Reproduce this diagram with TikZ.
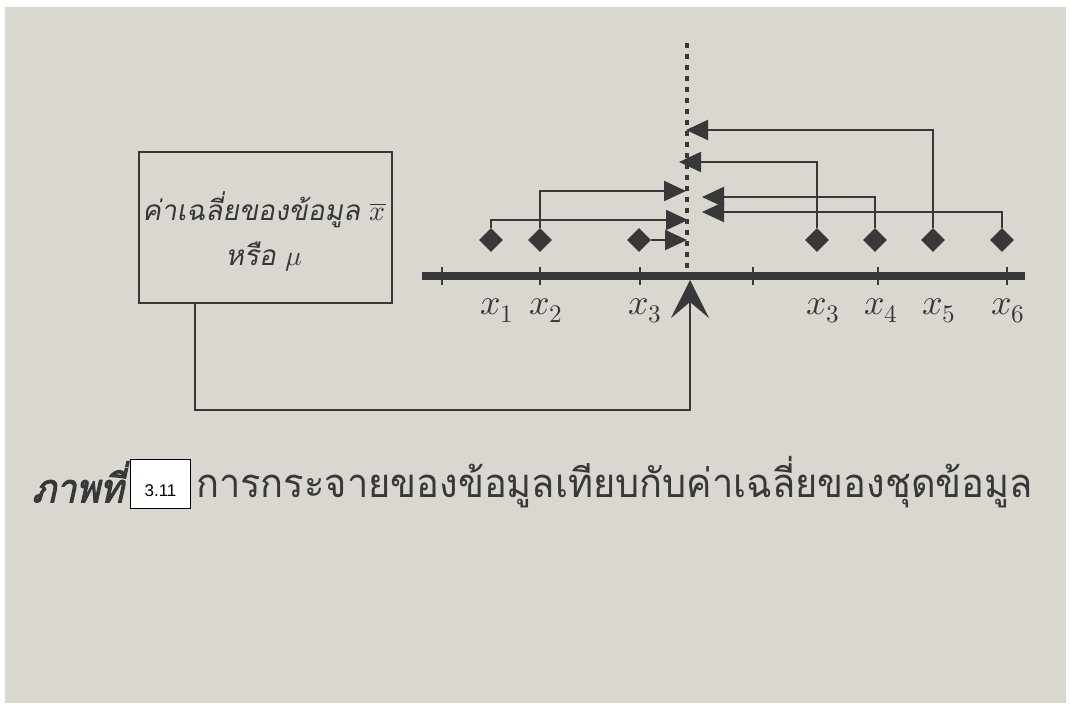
\documentclass[tikz,border=0pt]{standalone}
\usepackage{fontspec}
\usepackage{unicode-math}
\usetikzlibrary{arrows.meta,shapes.geometric}
\newfontfamily\thaifont[Script=Thai,FakeStretch=0.95]{Loma}
\newfontfamily\thaiit[Script=Thai,FakeSlant=0.18]{Loma}
\newfontfamily\thaibi[Script=Thai,FakeSlant=0.22,FakeBold=2.5,FakeStretch=0.9]{Loma}
\newfontfamily\numfont{Liberation Sans}
\definecolor{paper}{HTML}{DAD7D1}
\definecolor{ink}{HTML}{383838}
\tikzset{
  diam/.style={diamond, aspect=1, fill=ink, draw=none, minimum width=24pt, minimum height=24pt, inner sep=0pt},
  arr/.style={draw=ink, line width=2.2pt, -{Triangle[length=22pt,width=20pt]}},
  tick/.style={draw=ink, line width=2pt},
  xlab/.style={text=ink, anchor=base west, inner sep=0pt, font=\fontsize{36}{40}\selectfont},
  boxtext/.style={text=ink, inner sep=0pt, font=\thaiit\fontsize{28}{34}\selectfont},
}
\begin{document}
\begin{tikzpicture}[x=1pt,y=-1pt]
\useasboundingbox (0,0) rectangle (1070,707);
\fill[white] (0,0) rectangle (1070,707);
\fill[paper] (5,7) rectangle (1066,703);

% box
\node[draw=ink, line width=2pt, minimum width=253pt, minimum height=151pt, inner sep=0pt] (box) at (265.5,227.5) {};
\node[boxtext] (t1) at (264,210) {ค่าเฉลี่ยของข้อมูล $\overline{x}$};
\node[boxtext] (t2) at (264,257) {หรือ $\mu$};

% axis
\coordinate (axL) at (422,276);
\coordinate (axR) at (1025,276);
\draw[ink, line width=8pt] (axL) -- (axR);
\foreach \tx in {442,540,640,753,878,1007}
  \draw[tick] (\tx,267) -- (\tx,285);

% mean line
\coordinate (mtop) at (687,43);
\coordinate (mbot) at (687,272);
\draw[ink, line width=4.5pt, dash pattern=on 5pt off 6pt] (mtop) -- (mbot);

% diamonds
\node[diam] (d1) at (491,240) {};
\node[diam] (d2) at (540,240) {};
\node[diam] (d3) at (639,240) {};
\node[diam] (d4) at (817,240) {};
\node[diam] (d5) at (875,240) {};
\node[diam] (d6) at (933,240) {};
\node[diam] (d7) at (1002,240) {};

% labels
\node[xlab] (l1) at (480,314) {$x_1$};
\node[xlab] (l2) at (529,314) {$x_2$};
\node[xlab] (l3) at (628,314) {$x_3$};
\node[xlab] (l4) at (806,314) {$x_3$};
\node[xlab] (l5) at (864,314) {$x_4$};
\node[xlab] (l6) at (922,314) {$x_5$};
\node[xlab] (l7) at (991,314) {$x_6$};

% arrow targets on the mean line
\coordinate (m5) at (686,130);
\coordinate (m3r) at (679,162);
\coordinate (m2) at (686,191);
\coordinate (m4) at (702,197);
\coordinate (m6) at (702,212);
\coordinate (m1) at (688,220);
\coordinate (m3l) at (687,240);

\draw[arr] (d6.north) |- (m5);
\draw[arr] (d4.north) |- (m3r);
\draw[arr] (d2.north) |- (m2);
\draw[arr] (d5.north) |- (m4);
\draw[arr] (d7.north) |- (m6);
\draw[arr] (d1.north) |- (m1);
\draw[arr] (d3.east) -- (m3l);

% link from box to mean
\coordinate (b0) at ([xshift=57pt]box.south west);
\coordinate (turn) at (690,410);
\coordinate (mean) at (690,280);
\draw[draw=ink, line width=2pt, -{Stealth[length=38pt,width=38pt,inset=16pt]}] (b0) |- (turn) -- (mean);

% caption
\node[text=ink, anchor=west, inner sep=0pt, font=\thaibi\fontsize{40}{48}\selectfont] (fig) at (32,482) {ภาพที่};
\node[draw=black, fill=white, line width=1pt, minimum width=60pt, minimum height=49pt, inner sep=0pt] (num) at (160.5,483.5) {};
\node[inner sep=0pt, font=\numfont\fontsize{17}{20}\selectfont] (numtext) at (160.5,491) {3.11};
\node[text=ink, anchor=west, inner sep=0pt, font=\thaifont\fontsize{40}{48}\selectfont] (cap) at (196,482) {การกระจายของข้อมูลเทียบกับค่าเฉลี่ยของชุดข้อมูล};
\end{tikzpicture}
\end{document}
